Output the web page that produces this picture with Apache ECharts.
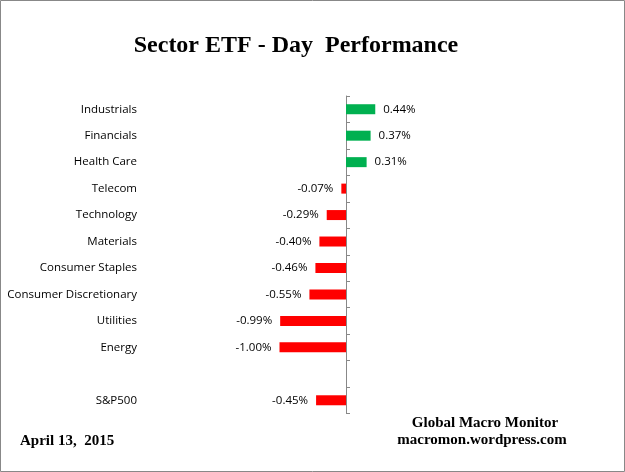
<!DOCTYPE html>
<html>
<head>
<meta charset="utf-8">
<script src="https://cdn.jsdelivr.net/npm/echarts@6/dist/echarts.min.js"></script>
<style>
html,body{margin:0;padding:0;background:#fff;}
#c{width:625px;height:472px;}
</style>
</head>
<body>
<div id="c"></div>
<script>
const categories = ['Industrials','Financials','Health Care','Telecom','Technology','Materials','Consumer Staples','Consumer Discretionary','Utilities','Energy','','S&P500'];
const values = [0.44, 0.37, 0.31, -0.07, -0.29, -0.40, -0.46, -0.55, -0.99, -1.00, null, -0.45];
const titleText = 'Sector ETF - Day  Performance';
const dateText = 'April 13,  2015';
const sourceLines = ['Global Macro Monitor', 'macromon.wordpress.com'];

const chart = echarts.init(document.getElementById('c'));
const serif = '"Liberation Serif", "Times New Roman", serif';
const sans = '"Open Sans", "Noto Sans", sans-serif';

chart.setOption({
  animation: false,
  backgroundColor: '#fff',
  grid: { left: 213, right: 146, top: 96, bottom: 58.5, containLabel: false },
  xAxis: { type: 'value', min: -2, max: 2, show: false },
  yAxis: [
    {
      type: 'category', data: categories, inverse: true, position: 'left',
      axisLine: { show: false, onZero: false }, axisTick: { show: false },
      axisLabel: { margin: 76, fontFamily: sans, fontSize: 11.5, color: '#000', padding: [3, 0, 0, 0] }
    },
    {
      type: 'category', data: categories, inverse: true,
      axisLine: { show: true, onZero: true, lineStyle: { color: '#888', width: 1 } },
      axisTick: { show: true, length: 4, lineStyle: { color: '#888' } },
      axisLabel: { show: false }
    }
  ],
  series: [{
    type: 'bar',
    yAxisIndex: 0,
    barWidth: 10,
    data: values.map(v => v == null ? null : {
      value: v,
      itemStyle: { color: v >= 0 ? '#00B050' : '#FF0000' },
      label: { position: v >= 0 ? 'right' : 'left' }
    }),
    label: {
      show: true, distance: 8, fontFamily: sans, fontSize: 11.5, color: '#000',
      padding: [3, 0, 0, 0],
      formatter: p => p.value.toFixed(2) + '%'
    }
  }],
  graphic: [
    { type: 'rect', shape: { x: 0.5, y: 0.5, width: 624, height: 471 }, style: { fill: 'none', stroke: '#888', lineWidth: 1 } },
    { type: 'text', x: 296, y: 46, style: { text: titleText, font: 'bold 24px ' + serif, fill: '#000', align: 'center', verticalAlign: 'middle' } },
    { type: 'text', x: 485, y: 423, style: { text: sourceLines[0], font: 'bold 15px ' + serif, fill: '#000', align: 'center', verticalAlign: 'middle' } },
    { type: 'text', x: 482, y: 440, style: { text: sourceLines[1], font: 'bold 15px ' + serif, fill: '#000', align: 'center', verticalAlign: 'middle' } },
    { type: 'text', x: 20, y: 441, style: { text: dateText, font: 'bold 15px ' + serif, fill: '#000', align: 'left', verticalAlign: 'middle' } }
  ]
});
</script>
</body>
</html>
